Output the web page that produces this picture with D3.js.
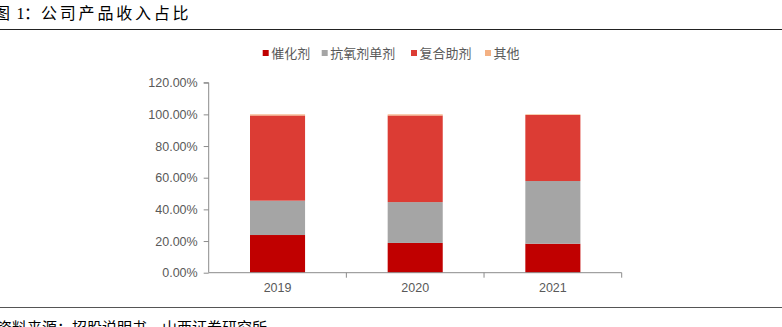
<!DOCTYPE html>
<html><head><meta charset="utf-8">
<script src="https://cdn.jsdelivr.net/npm/d3@7"></script>
<style>
body{margin:0;background:#fff;}
svg{display:block;}
</style></head>
<body>
<svg id="c" width="782" height="327"></svg>
<script>
const categories = ["2019", "2020", "2021"];
const seriesNames = ["催化剂", "抗氧剂单剂", "复合助剂", "其他"];
const catalyst = [23.8, 18.8, 18.3];
const antioxidant = [21.7, 25.8, 39.6];
const compound = [53.8, 54.7, 41.7];
const others = [0.7, 0.7, 0.4];
const yTicks = [0, 20, 40, 60, 80, 100, 120];
const colors = ["#C00000", "#A5A5A5", "#DC3C34", "#F4B183"];

const svg = d3.select("#c");
const rows = categories.map((c, i) => ({cat: c, "催化剂": catalyst[i], "抗氧剂单剂": antioxidant[i], "复合助剂": compound[i], "其他": others[i]}));
const stack = d3.stack().keys(seriesNames)(rows);

const x = d3.scaleBand().domain(categories).range([208.7, 621.7]).paddingInner(0.6).paddingOuter(0.3);
const y = d3.scaleLinear().domain([0, 120]).range([272.7, 82.7]);

// title
const t = svg.append("text").attr("y", 18.5).attr("font-family", "'Noto Sans CJK SC',sans-serif")
  .attr("font-size", 16).attr("fill", "#000");
t.append("tspan").attr("x", -6).text("图");
t.append("tspan").attr("x", 16.5).attr("font-family", "'Liberation Serif',serif").text("1");
t.append("tspan").attr("x", 24).text("：");
t.append("tspan").attr("x", 41).attr("letter-spacing", 2.8).text("公司产品收入占比");
svg.append("line").attr("x1", 0).attr("x2", 782).attr("y1", 29.5).attr("y2", 29.5).attr("stroke", "#222").attr("stroke-width", 1.2);
svg.append("line").attr("x1", 0).attr("x2", 782).attr("y1", 307.5).attr("y2", 307.5).attr("stroke", "#555").attr("stroke-width", 1);
svg.append("text").attr("x", -3).attr("y", 333).attr("font-family", "'Noto Sans CJK SC',sans-serif")
  .attr("font-size", 15).attr("fill", "#000").text("资料来源：招股说明书，山西证券研究所");

// bars
const g = svg.append("g");
stack.forEach((s, si) => {
  g.selectAll(null).data(s).enter().append("rect")
    .attr("x", d => x(d.data.cat))
    .attr("width", x.bandwidth())
    .attr("y", d => y(d[1]))
    .attr("height", d => y(d[0]) - y(d[1]))
    .attr("fill", colors[si]);
});

// y axis
const yAxis = d3.axisLeft(y).tickValues(yTicks).tickFormat(d => d.toFixed(2) + "%").tickSize(5).tickPadding(6);
const ya = svg.append("g").attr("transform", "translate(208.7,0)").call(yAxis);
ya.select(".domain").attr("stroke", "#8c8c8c").attr("d", `M-5,${y(120)}H0V${y(0)}`);
ya.selectAll(".tick line").attr("stroke", "#8c8c8c");
ya.selectAll("text").attr("fill", "#595959").attr("font-size", 12.5).attr("font-family", "'Liberation Sans',Arial,sans-serif");

// x axis
const xa = svg.append("g").attr("transform", `translate(0,${y(0)})`)
  .call(d3.axisBottom(x).tickSize(0).tickPadding(10));
xa.select(".domain").attr("stroke", "#8c8c8c").attr("d", `M208.7,0H621.7`);
xa.selectAll("text").attr("fill", "#595959").attr("font-size", 12.5).attr("font-family", "'Liberation Sans',Arial,sans-serif");
const step = x.step();
const bounds = [208.7 + step, 208.7 + 2 * step, 621.7];
xa.selectAll(".sep").data(bounds).enter().append("line")
  .attr("x1", d => d).attr("x2", d => d).attr("y1", 0).attr("y2", 5).attr("stroke", "#8c8c8c");

// legend
const legendX = [262.7, 321.7, 411, 485];
const lg = svg.append("g");
seriesNames.forEach((n, i) => {
  lg.append("rect").attr("x", legendX[i]).attr("y", 50).attr("width", 6).attr("height", 6).attr("fill", colors[i]);
  lg.append("text").attr("x", legendX[i] + 8.5).attr("y", 57.5).attr("font-size", 13)
    .attr("font-family", "'Noto Sans CJK SC',sans-serif").attr("fill", "#595959").text(n);
});
</script>
</body></html>
